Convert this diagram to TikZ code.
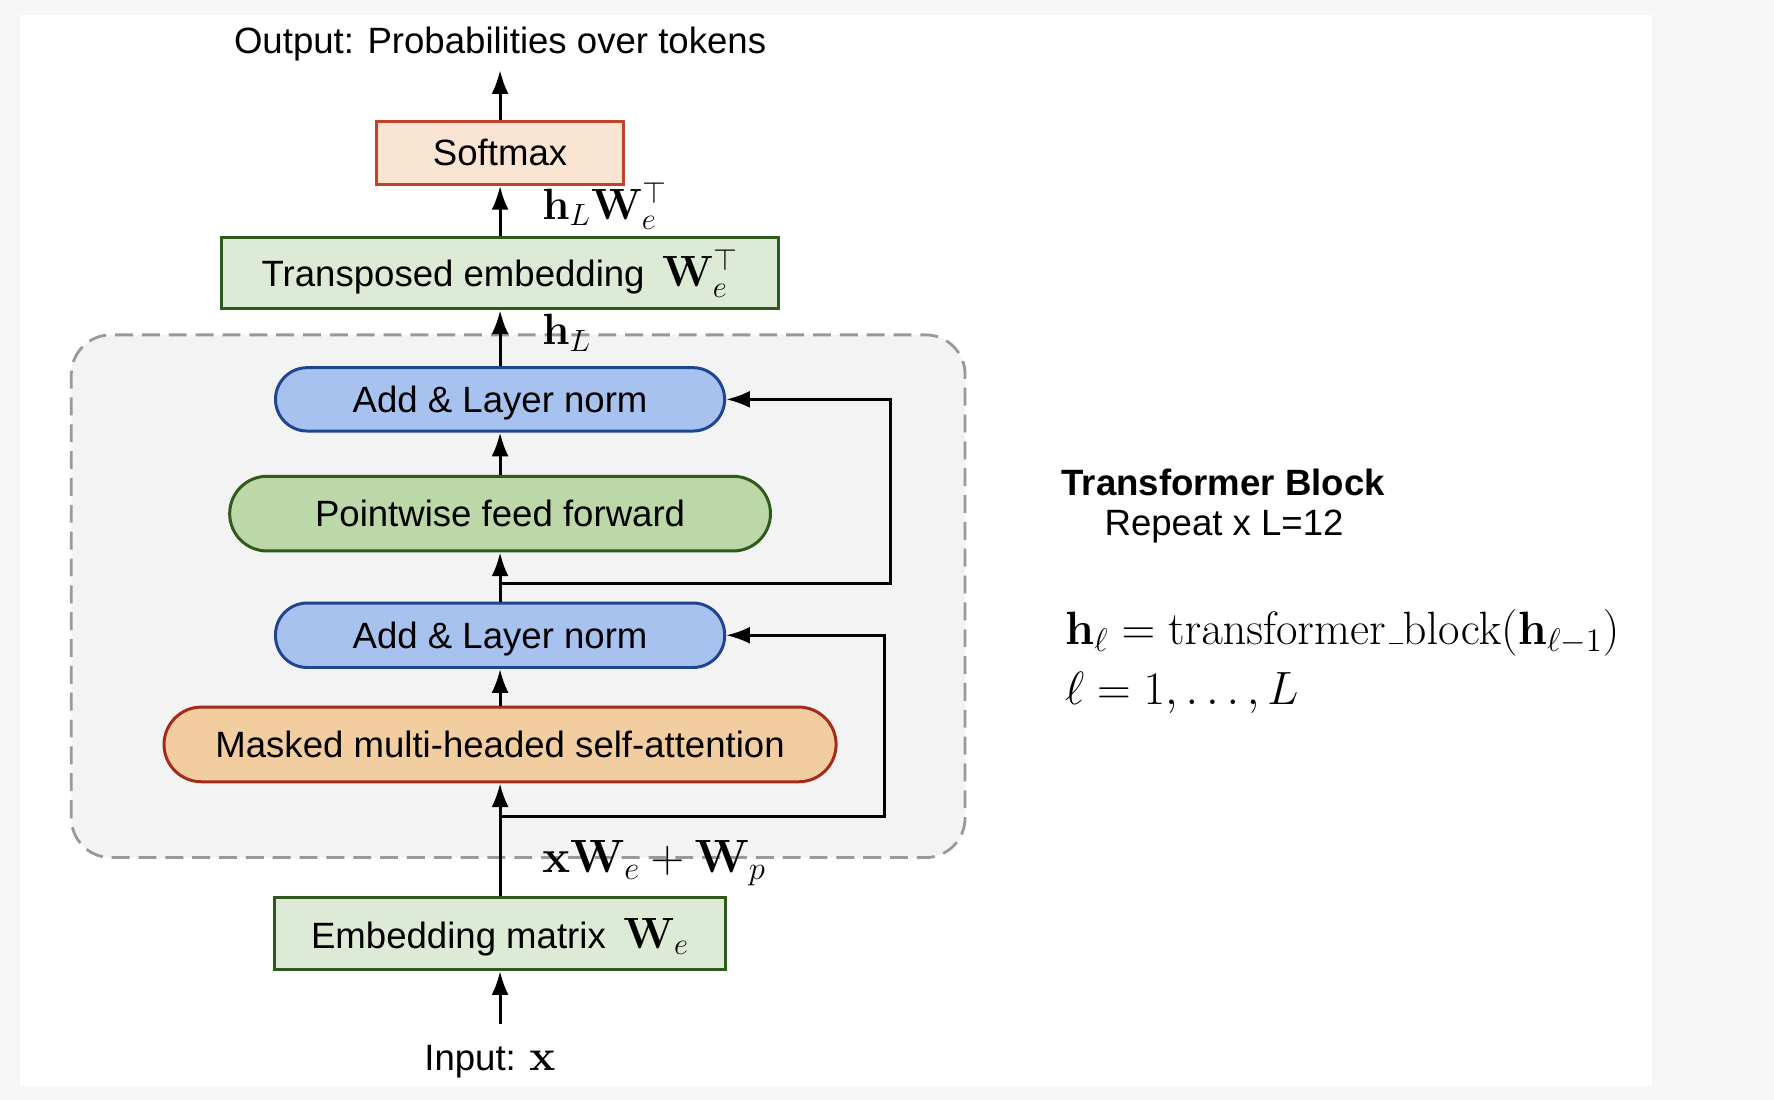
\RequirePackage{fix-cm}
\documentclass[tikz,border=0pt]{standalone}
\usepackage[no-math]{fontspec}
\setmainfont{Liberation Sans}
\usetikzlibrary{arrows.meta}

\definecolor{outerbg}{HTML}{F7F7F7}
\definecolor{blockfill}{HTML}{F3F3F3}
\definecolor{blockdash}{HTML}{999999}
\definecolor{softfill}{HTML}{F9E5D2}
\definecolor{softdraw}{HTML}{C5422A}
\definecolor{embfill}{HTML}{DDEAD5}
\definecolor{embdraw}{HTML}{2E5A1C}
\definecolor{normfill}{HTML}{A8C2F0}
\definecolor{normdraw}{HTML}{1F4590}
\definecolor{ffnfill}{HTML}{BCD7A8}
\definecolor{attfill}{HTML}{F2CDA0}
\definecolor{attdraw}{HTML}{A52A1A}

\newcommand{\bigmath}{\fontsize{22}{26}\selectfont}
\newcommand{\eqmath}{\fontsize{23.5}{28}\selectfont}

\begin{document}
\begin{tikzpicture}[
        line width=1.5pt,
        >={Latex[length=0.42cm,width=0.3cm]},
        plain/.style={text depth=0pt},
        box/.style={plain,draw,inner sep=0pt,minimum height=1.12cm},
        embbox/.style={box,draw=embdraw,fill=embfill,minimum height=1.28cm},
        pill/.style={box,rounded corners=0.56cm},
        normbox/.style={pill,draw=normdraw,fill=normfill,minimum width=7.94cm},
        lbl/.style={anchor=west,inner sep=0pt}
    ]
    \fontsize{18.4}{22}\selectfont
    \fill[outerbg] (0,0) rectangle (31.36,19.44);
    \fill[white] (0.36,0.24) rectangle (29.2,19.18);
    \draw[blockdash,fill=blockfill,line width=1.4pt,dash pattern=on 9pt off 4.5pt,rounded corners=0.7cm]
        (1.26,4.28) rectangle (17.06,13.52);

    \node[box,draw=softdraw,fill=softfill,minimum width=4.36cm] (softmax) at (8.84,16.74) {Softmax};
    \node[embbox,text depth=,minimum width=9.84cm,minimum height=1.26cm] (transp) at (8.84,14.61)
        {Transposed embedding\hspace{0.2em} {\bigmath$\mathbf{W}_e^\top$}};
    \node[normbox] (normtop) at (8.84,12.38) {Add \& Layer norm};
    \node[pill,draw=embdraw,fill=ffnfill,minimum width=9.56cm,minimum height=1.32cm,rounded corners=0.66cm]
        (ffn) at (8.84,10.36) {Pointwise feed forward};
    \node[normbox,minimum height=1.14cm] (normbot) at (8.84,8.21) {Add \& Layer norm};
    \node[pill,draw=attdraw,fill=attfill,minimum width=11.88cm,minimum height=1.32cm,rounded corners=0.66cm]
        (att) at (8.84,6.28) {Masked multi-headed self-attention};
    \node[embbox,minimum width=7.96cm] (embed) at (8.84,2.94)
        {Embedding matrix\hspace{0.2em} {\bigmath$\mathbf{W}_e$}};

    \node[plain] (output) at (8.84,18.72) {Output: Probabilities over tokens};
    \node[plain] (input) at (8.66,0.74) {Input: {\bigmath$\mathbf{x}$}};
    \coordinate (outtip) at (8.84,18.2);
    \coordinate (intail) at (8.84,1.34);
    \coordinate (split1) at (8.84,5.0);
    \coordinate (split2) at (8.84,9.12);

    \draw[->] (intail) -- (embed);
    \draw[->] (embed) -- (att);
    \draw[->] (att) -- (normbot);
    \draw[->] (normbot) -- (ffn);
    \draw[->] (ffn) -- (normtop);
    \draw[->] (normtop) -- (transp);
    \draw[->] (transp) -- (softmax);
    \draw[->] (softmax) -- (outtip);
    \draw[->] (split1) -- ++(6.8,0) |- (normbot.east);
    \draw[->] (split2) -- ++(6.9,0) |- (normtop.east);

    \begin{scope}[every node/.style={lbl,font=\bigmath}]
        \node (hlwe) at (9.56,15.8) {$\mathbf{h}_L\mathbf{W}_e^\top$};
        \node (hl) at (9.56,13.56) {$\mathbf{h}_L$};
        \node[font=\eqmath] (xwe) at (9.56,4.18) {$\mathbf{x}\mathbf{W}_e+\mathbf{W}_p$};
        \node[font=\eqmath] (eqh) at (18.8,8.26)
            {$\mathbf{h}_\ell=\mathrm{transformer\kern.06em\vbox{\hrule width.3em}block}(\mathbf{h}_{\ell-1})$};
        \node[font=\eqmath] (eql) at (18.8,7.2) {$\ell=1,\ldots,L$};
    \end{scope}
    \node[lbl,font=\bfseries] (title) at (18.74,10.92) {Transformer Block};
    \node[lbl] (repeat) at (19.5,10.14) {Repeat x L=12};
\end{tikzpicture}
\end{document}
